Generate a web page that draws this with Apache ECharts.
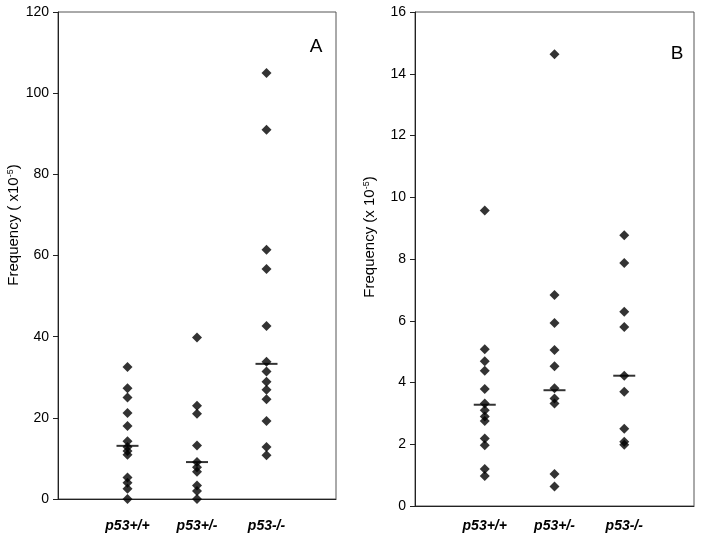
<!DOCTYPE html>
<html>
<head>
<meta charset="utf-8">
<script src="https://cdn.jsdelivr.net/npm/echarts@6/dist/echarts.min.js"></script>
<style>
  html, body { margin: 0; padding: 0; background: #fff; }
  #chart { width: 705px; height: 541px; }
</style>
</head>
<body>
<div id="chart"></div>
<script>
// genotype groups, placed at x = 1, 2, 3
const genotypes = ['p53+/+', 'p53+/-', 'p53-/-']

// panel A, frequency (x10^-5)
const aWildType = [32.5, 27.3, 25, 21.2, 18, 14.2, 12.8, 11.8, 10.9, 5.3, 4, 2.5, 0]
const aHet = [39.8, 23, 21, 13.2, 9.1, 7.8, 6.7, 3.3, 2, 0]
const aNull = [105, 91, 61.4, 56.7, 42.6, 33.8, 31.4, 28.9, 26.9, 24.6, 19.2, 12.8, 10.8]
const aMedians = [13.1, 9.1, 33.3]

// panel B, frequency (x 10^-5)
const bWildType = [9.57, 5.08, 4.69, 4.38, 3.79, 3.32, 3.1, 2.9, 2.75, 2.19, 1.97, 1.2, 0.97]
const bHet = [14.63, 6.83, 5.93, 5.05, 4.53, 3.81, 3.48, 3.32, 1.04, 0.63]
const bNull = [8.77, 7.87, 6.29, 5.8, 4.22, 3.7, 2.5, 2.08, 1.98]
const bMedians = [3.28, 3.75, 4.22]

const aTicks = { min: 0, max: 120, interval: 20 }
const bTicks = { min: 0, max: 16, interval: 2 }

const font = 'Liberation Sans, Arial, sans-serif'

function points(groups) {
  let out = []
  groups.forEach((vals, i) => {
    vals.forEach(v => out.push([i + 1, v]))
  })
  return out
}

function medianPoints(meds) {
  return meds.map((m, i) => [i + 1, m])
}

function xAxisFor(gridIndex, margin) {
  return {
    gridIndex: gridIndex,
    type: 'value',
    min: 0,
    max: 4,
    interval: 1,
    axisLine: { show: true, lineStyle: { color: '#222', width: 1 } },
    axisTick: { show: false },
    splitLine: { show: false },
    axisLabel: {
      margin: margin,
      color: '#000',
      fontFamily: font,
      fontSize: 14,
      fontStyle: 'italic',
      fontWeight: 'bold',
      formatter: v => genotypes[v - 1] || ''
    }
  }
}

function yAxisFor(gridIndex, ticks) {
  return {
    gridIndex: gridIndex,
    type: 'value',
    min: ticks.min,
    max: ticks.max,
    interval: ticks.interval,
    axisLine: { show: true, lineStyle: { color: '#222', width: 1 } },
    axisTick: { show: true, length: 5, lineStyle: { color: '#222' } },
    splitLine: { show: false },
    axisLabel: { margin: 9, color: '#000', fontFamily: font, fontSize: 14 }
  }
}

const diamond = { symbol: 'diamond', symbolSize: 10, itemStyle: { color: '#000' } }
const bar = { symbol: 'rect', symbolSize: [22, 2], itemStyle: { color: '#000' }, z: 3 }

const chart = echarts.init(document.getElementById('chart'))
chart.setOption({
  animation: false,
  backgroundColor: '#fff',
  grid: [
    { left: 58, top: 12, right: 369, bottom: 42, show: true, borderColor: '#555', borderWidth: 1 },
    { left: 415, top: 12, right: 11, bottom: 35, show: true, borderColor: '#555', borderWidth: 1 }
  ],
  xAxis: [xAxisFor(0, 20), xAxisFor(1, 13)],
  yAxis: [yAxisFor(0, aTicks), yAxisFor(1, bTicks)],
  series: [
    Object.assign({ type: 'scatter', xAxisIndex: 0, yAxisIndex: 0, data: points([aWildType, aHet, aNull]) }, diamond),
    Object.assign({ type: 'scatter', xAxisIndex: 0, yAxisIndex: 0, data: medianPoints(aMedians) }, bar),
    Object.assign({ type: 'scatter', xAxisIndex: 1, yAxisIndex: 1, data: points([bWildType, bHet, bNull]) }, diamond),
    Object.assign({ type: 'scatter', xAxisIndex: 1, yAxisIndex: 1, data: medianPoints(bMedians) }, bar)
  ],
  graphic: [
    {
      type: 'text', x: 14, y: 225, rotation: Math.PI / 2,
      style: {
        text: '{t|Frequency ( x10}{s|-5}{t|)}',
        align: 'center', verticalAlign: 'middle',
        rich: {
          t: { fontFamily: font, fontSize: 15, fill: '#000' },
          s: { fontFamily: font, fontSize: 9, fill: '#000', verticalAlign: 'top', padding: [0, 0, 7, 0] }
        }
      }
    },
    {
      type: 'text', x: 370, y: 237, rotation: Math.PI / 2,
      style: {
        text: '{t|Frequency (x 10}{s|-5}{t|)}',
        align: 'center', verticalAlign: 'middle',
        rich: {
          t: { fontFamily: font, fontSize: 15, fill: '#000' },
          s: { fontFamily: font, fontSize: 9, fill: '#000', verticalAlign: 'top', padding: [0, 0, 7, 0] }
        }
      }
    },
    {
      type: 'text', x: 316, y: 47,
      style: { text: 'A', fontFamily: font, fontSize: 19, fill: '#000', align: 'center', verticalAlign: 'middle' }
    },
    {
      type: 'text', x: 677, y: 54,
      style: { text: 'B', fontFamily: font, fontSize: 19, fill: '#000', align: 'center', verticalAlign: 'middle' }
    }
  ]
})
</script>
</body>
</html>
